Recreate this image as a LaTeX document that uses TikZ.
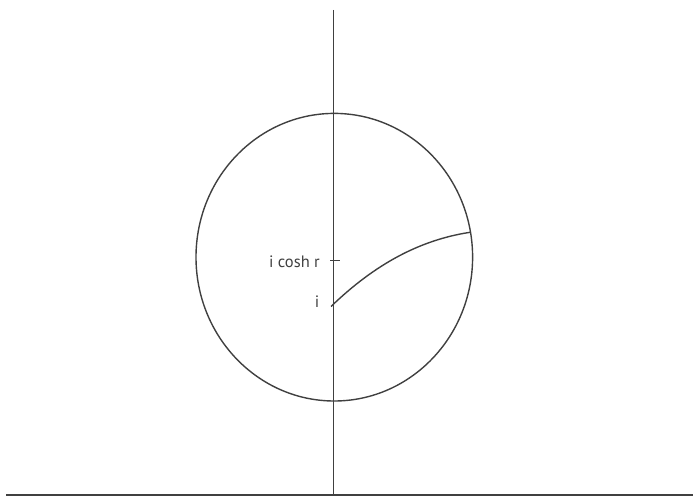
\documentclass[tikz,border=0pt]{standalone}
\usepackage{fontspec}
\setmainfont{PT Sans}
\begin{document}
\begin{tikzpicture}[x=1pt,y=1pt,
  ln/.style={line width=1.4pt,draw=black!75},
  lbl/.style={text=black!75,font=\fontsize{16.5}{18}\selectfont,inner sep=0pt}]
\useasboundingbox (0,0) rectangle (693,496);
\coordinate (top) at (333.3,486);
\coordinate (bot) at (333.3,0);
\coordinate (bl) at (6,1);
\coordinate (br) at (693,1);
\coordinate (c) at (334.3,238.8);
\coordinate (t1) at (330,235.7);
\coordinate (t2) at (340,235.7);
\coordinate (A) at (331,189.5);
\coordinate (B) at (470,263.7);
\draw[ln] (top) -- (bot);
\draw[ln] (bl) -- (br);
\draw[ln] (c) ellipse [x radius=138.3, y radius=143.8];
\draw[ln] (t1) -- (t2);
\draw[ln] (A) .. controls (375,232) and (420,256) .. (B);
\node[lbl,anchor=east] (lcosh) at (320,234) {i cosh r};
\node[lbl] (li) at (317,194) {i};
\end{tikzpicture}
\end{document}
